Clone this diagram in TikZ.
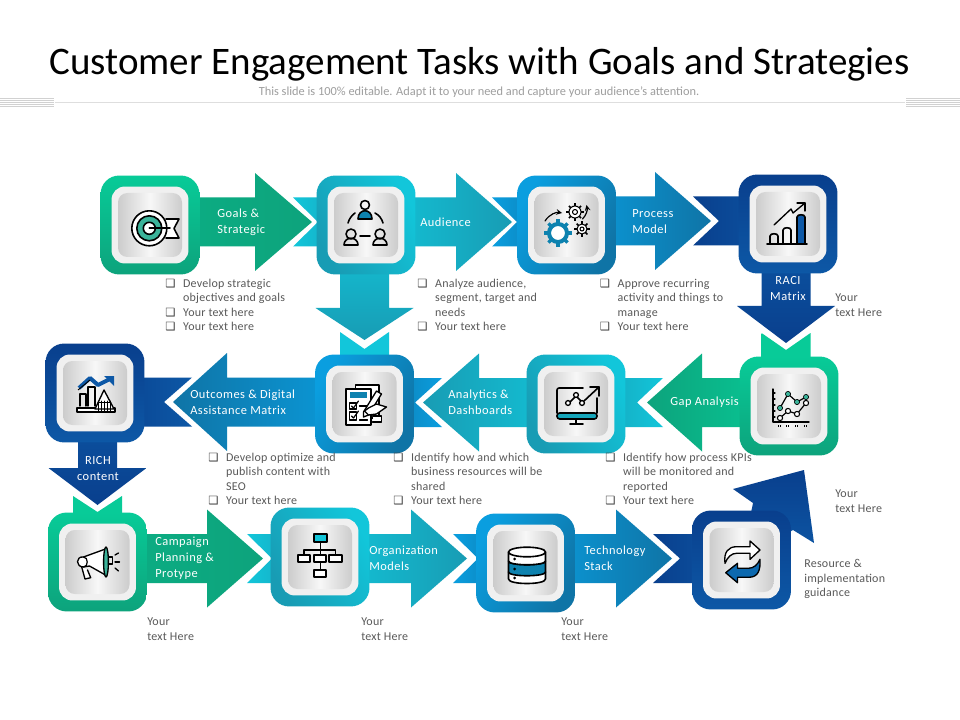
\documentclass[tikz,border=0pt]{standalone}
\usepackage{fontspec}
\setmainfont{Carlito}
\newfontfamily\symfont{DejaVu Sans}
\newfontfamily\lblfont[LetterSpace=4]{Carlito}
\newfontfamily\txtfont[LetterSpace=2]{Carlito}
\definecolor{greenA}{HTML}{08CB98}
\definecolor{greenB}{HTML}{0DA37C}
\definecolor{cyanA}{HTML}{12C6DA}
\definecolor{cyanB}{HTML}{189CB4}
\definecolor{blueA}{HTML}{0A9EDF}
\definecolor{blueB}{HTML}{0F74A6}
\definecolor{navyA}{HTML}{093F8D}
\definecolor{navyB}{HTML}{0D58A6}
\definecolor{tealmid}{HTML}{3BB39A}
\definecolor{txtgrey}{HTML}{595959}
\tikzset{every picture/.append style={x=.75pt,y=-.75pt}}
\tikzset{
  tile/.style={rectangle, rounded corners=14pt, minimum size=74.2pt, inner sep=0pt},
  gtile/.style={tile, top color=greenA, bottom color=greenB},
  ctile/.style={tile, shading=axis, left color=cyanB, right color=cyanA, shading angle=120},
  btile/.style={tile, shading=axis, left color=blueA, right color=blueB, shading angle=60},
  ntile/.style={tile, top color=navyA, bottom color=navyB},
  frame/.style={rectangle, rounded corners=10pt, minimum size=57.7pt, inner sep=0pt, fill=white!94!black},
  core/.style={rectangle, rounded corners=7pt, minimum size=48pt, inner sep=0pt,
    left color=black!20, right color=black!20, middle color=black!3},
  lbl/.style={font=\lblfont\fontsize{9.3}{12}\selectfont, text=white, align=left, inner sep=0pt},
  note/.style={font=\txtfont\fontsize{9}{10.9}\selectfont, text=txtgrey, align=left, anchor=north west, inner sep=0pt},
  ic/.style={draw=black, line width=1.2pt, line cap=round, line join=round},
  gh/.style={left color=greenB!70!greenA, right color=greenB},
  gr/.style={left color=greenB, right color=greenA},
  ch/.style={left color=cyanA, right color=cyanB},
  cr/.style={left color=cyanB, right color=cyanA},
  bh/.style={left color=blueA, right color=blueB},
  br/.style={left color=blueB, right color=blueA},
  nh/.style={left color=navyA, right color=navyB}
}
% one tile with its frame and grey core
\newcommand{\tilebox}[4]{
  \node[#4] (#1) at (#2,#3) {};
  \node[frame] (#1f) at (#1.center) {};
  \node[core] (#1c) at (#1.center) {};
}
% block arrows: style, from node, base, tip, other axis
\newcommand{\harrow}[5]{
  \path[#1] (#2.center |- 0,#5-24.5) -- (#3,#5-24.5) -- (#3,#5-49) -- (#4,#5)
    -- (#3,#5+49) -- (#3,#5+24.5) -- (#2.center |- 0,#5+24.5) -- cycle;
}
\newcommand{\varrow}[6]{
  \path[#1] (#5-#6,0 |- #2.center) -- (#5-#6,#3) -- (#5-49,#3) -- (#5,#4)
    -- (#5+49,#3) -- (#5+#6,#3) -- (#5+#6,0 |- #2.center) -- cycle;
}
% notched tails: style, to node, edge, notch, other axis
\newcommand{\htail}[5]{
  \path[#1] (#2.center |- 0,#5-24.5) -- (#3,#5-24.5) -- (#4,#5) -- (#3,#5+24.5)
    -- (#2.center |- 0,#5+24.5) -- cycle;
}
\newcommand{\vtail}[5]{
  \path[#1] (#5-24.5,0 |- #2.center) -- (#5-24.5,#3) -- (#5,#4) -- (#5+24.5,#3)
    -- (#5+24.5,0 |- #2.center) -- cycle;
}
\newcommand{\gearicon}[5]{
  \foreach \a in {0,45,...,315}
    \draw[draw=#4, line width=#5, shift={(#1,#2)}] (\a:#3-1) -- (\a:#3+2.6);
}
\newcommand{\bul}{\makebox[13.4pt][l]{\color{black!75}\symfont\fontsize{8.5}{9}\selectfont ❑}}
\newcommand{\ind}{\hspace*{13.4pt}}

\begin{document}
\begin{tikzpicture}
  \useasboundingbox (0,0) rectangle (960,720);
  \fill[white] (0,0) rectangle (960,720);

  % heading
  \node[font=\fontsize{29.25}{32}\selectfont, inner sep=0pt] (title) at (479.5,64) {Customer Engagement Tasks with Goals and Strategies};
  \node[font=\fontsize{9.27}{11}\selectfont, text=black!38, inner sep=0pt] (sub) at (479,92) {This slide is 100\% editable. Adapt it to your need and capture your audience’s attention.};
  \draw[black!13, line width=.8pt] (55,102.5) -- (905,102.5);
  \foreach \y in {98.5,100.5,...,106.5} {
    \draw[black!18, line width=.4pt] (0,\y) -- (54,\y);
    \draw[black!18, line width=.4pt] (906,\y) -- (960,\y);
  }

  % invisible anchors first, tiles are drawn after the arrows
  \foreach \n/\x/\y in {a/150/225,b/366/225,c/566.5/225,d/788/224,e/789/406,f/576/404,g/364.5/404,
      h/95/393,i/97.5/562,j/320/557,k/525.5/563,l/741.5/560}
    \coordinate (\n) at (\x,\y);

  % arrows, top row
  \harrow{gh}{a}{255}{312}{222}
  \htail{ch}{b}{293}{318}{222}
  \harrow{ch}{b}{456}{512}{222}
  \htail{bh}{c}{492}{517}{222}
  \harrow{bh}{c}{655}{711}{221}
  \htail{nh}{d}{693}{719}{221}
  \varrow{top color=cyanA, bottom color=cyanB}{b}{308}{340}{364.5}{24.5}
  \vtail{top color=cyanA, bottom color=cyanA}{g}{332}{349}{364.5}
  \varrow{top color=navyB, bottom color=navyA}{d}{306}{343}{786}{24.5}
  \vtail{top color=greenA, bottom color=greenA}{e}{333}{350}{786}

  % arrows, middle row
  \harrow{gr}{e}{702}{647}{402.5}
  \htail{cr}{f}{663}{637}{402.5}
  \harrow{cr}{f}{479}{423}{402.5}
  \htail{br}{g}{442}{415}{402.5}
  \harrow{br}{g}{227}{173}{402}
  \htail{nh}{h}{192}{164}{402}
  \varrow{top color=navyB, bottom color=navyA}{h}{468}{505}{97.5}{19.5}
  \vtail{top color=greenA, bottom color=greenA}{i}{496}{512}{97.5}

  % arrows, bottom row
  \harrow{gh}{i}{207}{263}{558.5}
  \htail{ch}{j}{247}{272}{558.5}
  \harrow{ch}{j}{411}{467}{558.5}
  \htail{bh}{k}{453}{478}{558.5}
  \harrow{bh}{k}{616}{672}{558.5}
  \htail{nh}{l}{653}{680}{558.5}
  \path[top color=navyA, bottom color=navyB] (733,489) -- (804,470) -- (814,543) -- (793,530) -- (l) -- (753,503) -- cycle;

  % tiles
  \tilebox{t1}{150}{225}{gtile}
  \tilebox{t2}{366}{225}{ctile}
  \tilebox{t3}{566.5}{225}{btile}
  \tilebox{t4}{788}{224}{ntile}
  \tilebox{t5}{789}{406}{gtile}
  \tilebox{t6}{576}{404}{ctile}
  \tilebox{t7}{364.5}{404}{btile}
  \tilebox{t8}{95}{393}{ntile}
  \tilebox{t9}{97.5}{562}{gtile}
  \tilebox{t10}{320}{557}{ctile}
  \tilebox{t11}{525.5}{563}{btile}
  \tilebox{t12}{741.5}{560}{ntile}

  % target
  \begin{scope}[shift={(t1.center)}]
    \draw[ic, fill=white] (16,-6) -- (29,-6) -- (24,3.5) -- (29,13) -- (16,13);
    \draw[ic, fill=white] (-.7,3.3) circle [radius=17.5];
    \draw[ic, fill=tealmid] (-.7,3.3) circle [radius=12.5];
    \draw[ic, fill=white] (-.7,3.3) circle [radius=6];
    \draw[ic] (-.7,3.3) -- (20,3.3);
  \end{scope}

  % audience
  \begin{scope}[shift={(t2.center)}]
    \draw[ic] (-1,-20) circle [radius=4.5];
    \draw[ic, fill=blueB!90!cyan] (-8,-6) .. controls (-8,-17) and (6,-17) .. (6,-6) -- cycle;
    \draw[ic] (-15,9) circle [radius=5];
    \draw[ic] (-22,20) .. controls (-22,11) and (-8,11) .. (-8,20) -- cycle;
    \draw[ic] (14,9) circle [radius=5];
    \draw[ic] (7,20) .. controls (7,11) and (21,11) .. (21,20) -- cycle;
    \draw[ic] (-6,11) -- (4,11);
    \draw[ic] (-18,-2) .. controls (-17,-6) and (-14,-10) .. (-11,-12);
    \draw[ic] (17,-2) .. controls (16,-6) and (13,-10) .. (9,-12);
  \end{scope}

  % gears
  \begin{scope}[shift={(t3.center)}]
    \gearicon{-8.5}{8}{11}{blueB!90!cyan}{2.4pt}
    \draw[fill=white, draw=blueB!90!cyan, line width=3pt] (-8.5,8) circle [radius=9];
    \gearicon{8.5}{-13}{6}{black}{1.3pt}
    \draw[ic, fill=white, line width=.8pt] (8.5,-13) circle [radius=6];
    \draw[ic, line width=.8pt] (8.5,-13) circle [radius=2.5];
    \gearicon{15.5}{4}{5}{black}{1.1pt}
    \draw[ic, fill=white, line width=.8pt] (15.5,4) circle [radius=5];
    \draw[ic, line width=.8pt] (15.5,4) circle [radius=2];
    \draw[ic, ->, >=stealth, line width=.9pt] (-21.5,-4) .. controls (-17,-11) and (-10,-13) .. (-4.5,-12);
    \draw[ic, ->, >=stealth, line width=.9pt] (16,-6) .. controls (20,-10) and (21,-15) .. (20,-20);
  \end{scope}

  % bars with rising arrow
  \begin{scope}[shift={(t4.center)}]
    \draw[ic, fill=navyB] (9,20) -- (9,-7) .. controls (9,-10) and (17,-10) .. (17,-7) -- (17,20) -- cycle;
    \draw[ic] (-18,20) -- (-18,12) .. controls (-18,9) and (-10,9) .. (-10,12) -- (-10,20);
    \draw[ic] (-5,20) -- (-5,6) .. controls (-5,3) and (3,3) .. (3,6) -- (3,20);
    \draw[ic] (-21,20) -- (19,20);
    \draw[ic, line width=1pt] (-14,1) -- (3,-15) -- (5,-11) -- (17,-21);
    \draw[ic, line width=1pt] (9,-21) -- (17,-21) -- (17,-13);
  \end{scope}

  % line chart
  \begin{scope}[shift={(t5.center)}]
    \draw[ic, line width=1pt] (-16,-17) -- (-16,16) -- (20,16);
    \foreach \y in {-13,-7,...,11} \draw[ic, line width=.8pt] (-16,\y) -- (-14,\y);
    \foreach \x in {-9,-1,8,17} \draw[draw=black, line width=1.4pt, dash pattern=on .8pt off .8pt] (\x-2,20) -- (\x+2,20);
    \draw[ic, line width=.9pt] (-9,2) -- (-1,-12) -- (8,-4) -- (17,-9);
    \draw[ic, line width=.9pt] (-9,12) -- (-1,5) -- (8,8) -- (17,-3);
    \foreach \x/\y in {-9/2,-1/-12,8/-4,17/-9} \draw[draw=black, fill=tealmid, line width=.5pt] (\x,\y) circle [radius=2.6];
    \foreach \x/\y in {-9/12,-1/5,8/8,17/-3} \draw[draw=black, fill=white, line width=.8pt] (\x,\y) circle [radius=2.6];
  \end{scope}

  % monitor
  \begin{scope}[shift={(t6.center)}]
    \path[fill=cyanB!90!cyan, draw=black, line width=1.2pt, rounded corners=2pt] (-19,9) -- (21,9) -- (21,15) -- (-19,15) -- cycle;
    \draw[ic] (7,-16) -- (-17,-16) .. controls (-18,-16) and (-19,-15) .. (-19,-14) -- (-19,9);
    \draw[ic] (21,-6) -- (21,9);
    \draw[ic] (0,15) -- (0,20); \draw[ic] (-6,20) -- (7,20);
    \draw[ic] (-6,-2) -- (-1,-7); \draw[ic] (1,-7) -- (5,-3); \draw[ic] (8,-3) -- (23,-17);
    \draw[ic] (14,-17) -- (23,-17) -- (23,-8);
    \foreach \x/\y in {-8/-1,0/-9,6/-1} \draw[ic, fill=white, line width=1pt] (\x,\y) circle [radius=2.4];
  \end{scope}

  % clipboard and hand
  \begin{scope}[shift={(t7.center)}]
    \draw[ic, line width=1pt, fill=white] (-9,-19) -- (14.5,-19) -- (14.5,14) -- (-9,14) -- cycle;
    \draw[ic, line width=1pt, fill=white] (-18.5,-15) -- (6.5,-15) -- (6.5,21) -- (-18.5,21) -- cycle;
    \fill[blueB!90!cyan] (-15,-12) rectangle (2,-6);
    \draw[ic, line width=1pt] (-15,-1) rectangle (-8,5);
    \draw[ic, line width=1pt] (-15,8) rectangle (-8,16);
    \draw[ic, line width=.9pt] (-13,2) -- (-11,4) -- (-6,-3);
    \draw[ic, line width=.9pt] (-13,12) -- (-11,14) -- (-6,7);
    \draw[ic, line width=.9pt] (-5,2) -- (3,2); \draw[ic, line width=.9pt] (-5,16) -- (3,16);
    \draw[ic, line width=1pt, fill=white] (12,-13) -- (17,-10) -- (4,11) -- (-1,13) -- (-1,8) -- cycle;
    \draw[ic, line width=1pt, fill=white] (4,4) -- (12,0) -- (22,3) -- (12,10) -- (4,11) -- (0,7) -- cycle;
    \draw[ic, line width=1pt, fill=white] (8,12) -- (17,12) -- (17,18) -- (8,18);
  \end{scope}

  % bars and mountain
  \begin{scope}[shift={(t8.center)}]
    \draw[ic, line width=1pt] (-15,13) -- (-15,1) -- (-9,1) -- (-9,13);
    \draw[ic, line width=1pt] (-7,13) -- (-7,-6) -- (0,-6) -- (0,13);
    \draw[line width=3pt, draw=navyB, line join=round] (-16,-5) -- (-5,-15) -- (3,-8) -- (15,-14);
    \draw[draw=black, line width=.7pt] (-17,-3) -- (-5,-13);
    \fill[navyB] (9,-17) -- (19,-17) -- (19,-7) -- cycle;
    \draw[ic, line width=1pt, fill=white] (-18,15) rectangle (20,19);
    \draw[ic, line width=1pt, fill=white] (0,16) -- (9,-3) -- (19,16) -- cycle;
    \foreach \x in {3,6,...,15} \draw[ic, line width=.7pt] (\x,8) -- (\x,18);
    \draw[ic, line width=.7pt] (3,9) -- (16,9);
  \end{scope}

  % megaphone
  \begin{scope}[shift={(t9.center)}]
    \draw[ic, line width=1pt, fill=white] (-15.8,5) -- (-12.5,17) -- (-6.8,15.7) -- (-10,8);
    \draw[ic, line width=1pt, fill=white] (-14,-5) .. controls (-22,-6) and (-22,5) .. (-14,5) -- (-8,4) -- (8,13) -- (8,-13) -- cycle;
    \draw[ic, line width=.9pt] (-14,-5) .. controls (-9,-5) and (-9,5) .. (-14,5);
    \draw[ic, line width=1pt, fill=tealmid] (8.5,0) ellipse [x radius=2.4, y radius=15];
    \draw[ic, line width=1pt] (11,-5) -- (15,-5) -- (15,2) -- (11,2);
    \draw[ic, line width=1pt] (17.5,-7) -- (21,-9);
    \draw[ic, line width=1pt] (17.5,0) -- (22,0);
    \draw[ic, line width=1pt] (17.5,6) -- (21,9);
  \end{scope}

  % org chart
  \begin{scope}[shift={(t10.center)}]
    \draw[ic, line width=1pt] (0.5,-15) -- (0.5,13);
    \draw[ic, line width=1pt] (-16,-2) -- (-16,-7) -- (15.5,-7) -- (15.5,-2);
    \draw[ic, line width=1pt, fill=cyanA] (-6,-23) rectangle (7,-15);
    \draw[ic, line width=1pt, fill=white] (-22,-2) rectangle (-10,5);
    \draw[ic, line width=1pt, fill=white] (-6,-2) rectangle (6,5);
    \draw[ic, line width=1pt, fill=white] (9,-2) rectangle (22,5);
    \draw[ic, line width=1pt, fill=white] (-6,13) rectangle (6,20);
  \end{scope}

  % database
  \begin{scope}[shift={(t11.center)}]
    \draw[ic, fill=white] (-17,9) -- (-17,16) .. controls (-17,22) and (20,22) .. (20,16) -- (20,9);
    \draw[ic, fill=blueB!90!cyan] (-17,-2) .. controls (-17,3) and (20,3) .. (20,-2) -- (20,9) .. controls (20,14) and (-17,14) .. (-17,9) -- cycle;
    \draw[ic, fill=white] (-17,-11) -- (-17,-2) .. controls (-17,3) and (20,3) .. (20,-2) -- (20,-11);
    \draw[ic, fill=white] (1.5,-11) ellipse [x radius=18.5, y radius=4.8];
    \foreach \y in {-4,6,15} \fill (-11,\y) circle [radius=1.5];
  \end{scope}

  % swap arrows
  \begin{scope}[shift={(t12.center)}]
    \draw[ic, line width=1pt, fill=white] (-16.5,3.3) .. controls (-18,-8) and (-13,-13.3) .. (-5,-13.3) -- (8.5,-13.3) -- (8.5,-19) -- (18.5,-10) -- (8.5,-.7) -- (8.5,-6.7) -- (-5,-6.7) .. controls (-10,-6.7) and (-14,-3) .. (-16.5,3.3) -- cycle;
    \draw[ic, line width=1pt, fill=navyB!90!cyan] (18.5,-.7) .. controls (19,10) and (17,17.3) .. (7,17.3) -- (-4,17.3) -- (-4,22.7) -- (-15.8,12.7) -- (-4,3.3) -- (-4,8.3) -- (6.8,8.3) .. controls (12,8.3) and (16,5) .. (18.5,-.7) -- cycle;
  \end{scope}

  % arrow labels
  \node[lbl, anchor=west] (l1) at (217,222) {Goals \&\\Strategic};
  \node[lbl, anchor=west] (l2) at (420,222) {Audience};
  \node[lbl, anchor=west] (l3) at (632,222) {Process\\Model};
  \node[lbl, align=center] (l4) at (788,288.5) {RACI\\Matrix};
  \node[lbl, anchor=west] (l5) at (670,402) {Gap Analysis};
  \node[lbl, anchor=west] (l6) at (448,402) {Analytics \&\\Dashboards};
  \node[lbl, anchor=west] (l7) at (190,402) {Outcomes \& Digital\\Assistance  Matrix};
  \node[lbl, align=center] (l8) at (98,469) {RICH\\content};
  \node[lbl, anchor=west] (l9) at (155,558) {Campaign\\Planning \&\\Protype};
  \node[lbl, anchor=west] (l10) at (369,558) {Organization\\Models};
  \node[lbl, anchor=west] (l11) at (584,558) {Technology\\Stack};

  % bullet lists
  \node[note] (n1) at (165,278.5) {\bul Develop strategic\\\ind objectives and goals\\\bul Your text here\\\bul Your text here};
  \node[note] (n2) at (417,278.5) {\bul Analyze audience,\\\ind segment, target and\\\ind needs\\\bul Your text here};
  \node[note] (n3) at (599.5,278.5) {\bul Approve recurring\\\ind activity and things to\\\ind manage\\\bul Your text here};
  \node[note] (n4) at (208,452.5) {\bul Develop optimize and\\\ind publish content with\\\ind SEO\\\bul Your text here};
  \node[note] (n5) at (393,452.5) {\bul Identify how and which\\\ind business resources will be\\\ind shared\\\bul Your text here};
  \node[note] (n6) at (605,452.5) {\bul Identify how process KPIs\\\ind will be monitored and\\\ind reported\\\bul Your text here};

  % side notes
  \node[note] (s1) at (835,294) {Your\\text Here};
  \node[note] (s2) at (835,490) {Your\\text Here};
  \node[note] (s3) at (147,618) {Your\\text Here};
  \node[note] (s4) at (361,618) {Your\\text Here};
  \node[note] (s5) at (561,618) {Your\\text Here};
  \node[note] (s6) at (804,559) {Resource \&\\implementation\\guidance};
\end{tikzpicture}
\end{document}
